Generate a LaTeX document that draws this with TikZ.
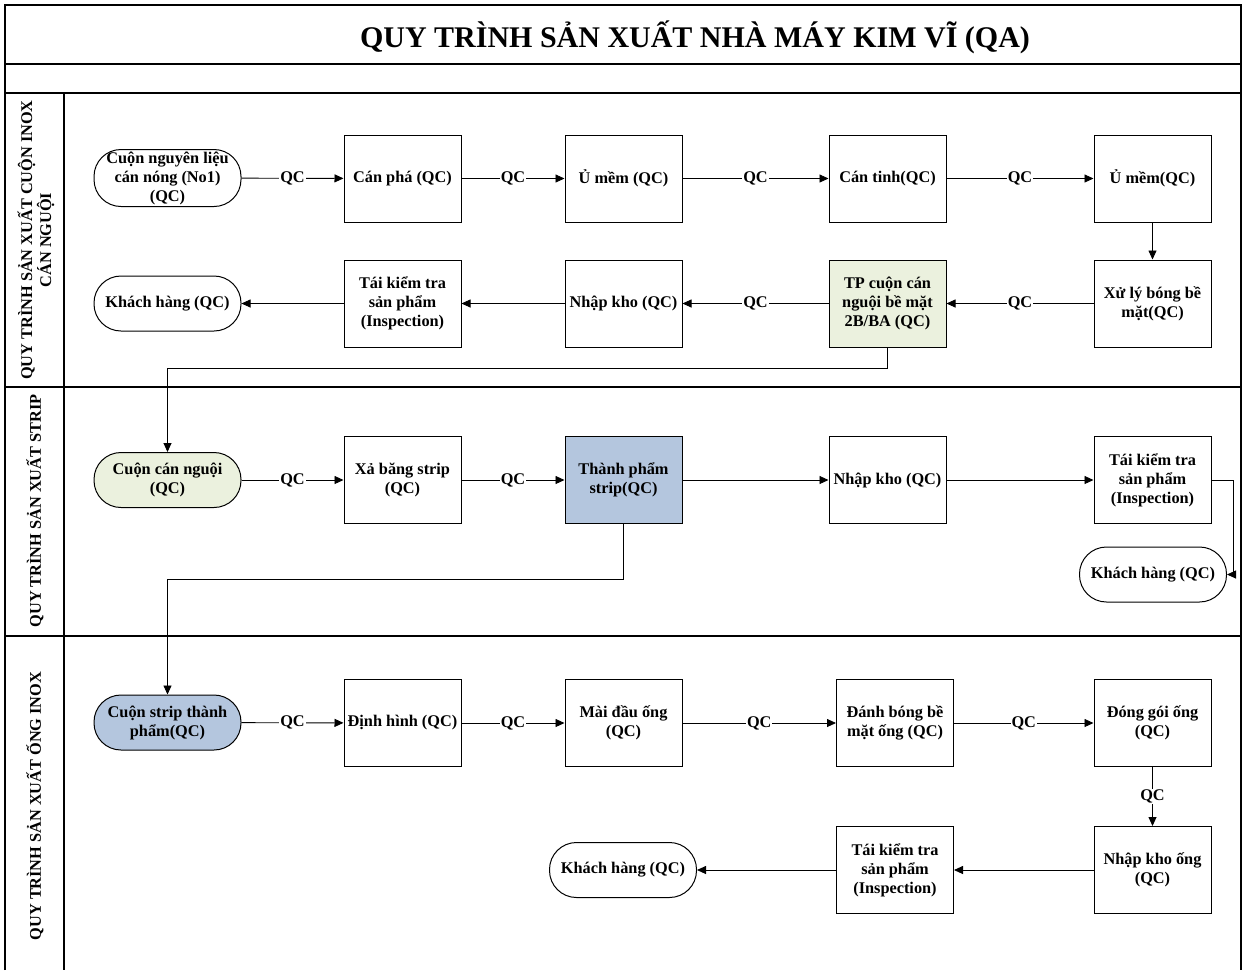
\documentclass[tikz,border=0pt]{standalone}
\usepackage{fontspec}
\setmainfont{Liberation Serif}
\usetikzlibrary{arrows.meta,calc}
\definecolor{greenF}{HTML}{EBF1DE}
\definecolor{blueF}{HTML}{B4C6DE}
\begin{document}
\begin{tikzpicture}[x=1pt,y=-1pt,
  txt/.style={font=\bfseries\fontsize{16.3}{19}\selectfont},
  procbox/.style={txt,draw,line width=1pt,minimum width=117pt,minimum height=87pt,align=center,inner sep=1pt},
  term/.style={txt,draw,line width=1pt,rounded corners=27pt,minimum width=147pt,minimum height=55pt,align=center,inner xsep=1pt,inner ysep=0pt},
  qc/.style={txt,fill=white,inner sep=1pt},
  arr/.style={line width=0.9pt,-{Triangle[length=9pt,width=8pt]}},
  frame/.style={line width=1.3pt},
  lane/.style={txt,rotate=90,align=center}]
\fill[white] (0,0) rectangle (1242,970);
\useasboundingbox (0,0) rectangle (1242,970);
% frame
\draw[frame] (5,970) -- (5,5) -- (1241,5) -- (1241,970);
\draw[frame] (5,64) -- (1241,64);
\draw[frame] (5,93) -- (1241,93);
\draw[frame] (5,387) -- (1241,387);
\draw[frame] (5,636) -- (1241,636);
\draw[frame] (64,93) -- (64,970);
\node[font=\bfseries\fontsize{30}{34}\selectfont] (title) at (695,37) {QUY TRÌNH SẢN XUẤT NHÀ MÁY KIM VĨ (QA)};
% lane labels
\node[lane] (l1) at (36,240) {QUY TRÌNH SẢN XUẤT CUỘN INOX\\CÁN NGUỘI};
\node[lane] (l2) at (35,511) {QUY TRÌNH SẢN XUẤT STRIP};
\node[lane] (l3) at (35,806) {QUY TRÌNH SẢN XUẤT ỐNG INOX};
% lane 1
\node[term,minimum height=57pt] (a1) at (167.5,178) {Cuộn nguyên liệu\\cán nóng (No1)\\(QC)};
\node[procbox] (a2) at (402.5,178.5) {Cán phá (QC)};
\node[procbox] (a3) at (623.5,178.5) {Ủ mềm (QC)};
\node[procbox] (a4) at (887.5,178.5) {Cán tinh(QC)};
\node[procbox] (a5) at (1152.5,178.5) {Ủ mềm(QC)};
\node[procbox] (a6) at (1152.5,303.5) {Xử lý bóng bề\\mặt(QC)};
\node[procbox,fill=greenF] (a7) at (887.5,303.5) {TP cuộn cán\\nguội bề mặt\\2B/BA (QC)};
\node[procbox] (a8) at (623.5,303.5) {Nhập kho (QC)};
\node[procbox] (a9) at (402.5,303.5) {Tái kiểm tra\\sản phẩm\\(Inspection)};
\node[term] (a10) at (167.5,303.5) {Khách hàng (QC)};
% lane 2
\node[term,fill=greenF] (b1) at (167.5,480) {Cuộn cán nguội\\(QC)};
\node[procbox] (b2) at (402.5,480) {Xả băng strip\\(QC)};
\node[procbox,fill=blueF] (b3) at (623.5,480) {Thành phẩm\\strip(QC)};
\node[procbox] (b4) at (887.5,480) {Nhập kho (QC)};
\node[procbox] (b5) at (1152.5,480) {Tái kiểm tra\\sản phẩm\\(Inspection)};
\node[term] (b6) at (1153,574.5) {Khách hàng (QC)};
% lane 3
\node[term,fill=blueF] (c1) at (167.5,722.5) {Cuộn strip thành\\phẩm(QC)};
\node[procbox] (c2) at (402.5,723) {Định hình (QC)};
\node[procbox] (c3) at (623.5,723) {Mài đầu ống\\(QC)};
\node[procbox] (c4) at (895,723) {Đánh bóng bề\\mặt ống (QC)};
\node[procbox] (c5) at (1152.5,723) {Đóng gói ống\\(QC)};
\node[procbox] (c6) at (1152.5,870) {Nhập kho ống\\(QC)};
\node[procbox] (c7) at (895,870) {Tái kiểm tra\\sản phẩm\\(Inspection)};
\node[term] (c8) at (623,870) {Khách hàng (QC)};
% connectors lane 1
\draw[arr] (a1) -- node[qc]{QC} (a2);
\draw[arr] (a2) -- node[qc]{QC} (a3);
\draw[arr] (a3) -- node[qc]{QC} (a4);
\draw[arr] (a4) -- node[qc]{QC} (a5);
\draw[arr] (a5) -- (a6);
\draw[arr] (a6) -- node[qc]{QC} (a7);
\draw[arr] (a7) -- node[qc]{QC} (a8);
\draw[arr] (a8) -- (a9);
\draw[arr] (a9) -- (a10);
\coordinate (j1) at (888,368);
\draw[arr] (a7.south) -- (a7.south |- j1) -| (b1.north);
% lane 2
\draw[arr] (b1) -- node[qc]{QC} (b2);
\draw[arr] (b2) -- node[qc]{QC} (b3);
\draw[arr] (b3) -- (b4);
\draw[arr] (b4) -- (b5);
\draw[arr] (b5.east) -- ++(22,0) |- (b6.east);
\coordinate (j2) at (624,579);
\draw[arr] (b3.south) -- (b3.south |- j2) -| (c1.north);
% lane 3
\draw[arr] (c1) -- node[qc]{QC} (c2);
\draw[arr] (c2) -- node[qc]{QC} (c3);
\draw[arr] (c3) -- node[qc]{QC} (c4);
\draw[arr] (c4) -- node[qc]{QC} (c5);
\draw[arr] (c5) -- node[qc]{QC} (c6);
\draw[arr] (c6) -- (c7);
\draw[arr] (c7) -- (c8);
\end{tikzpicture}
\end{document}
